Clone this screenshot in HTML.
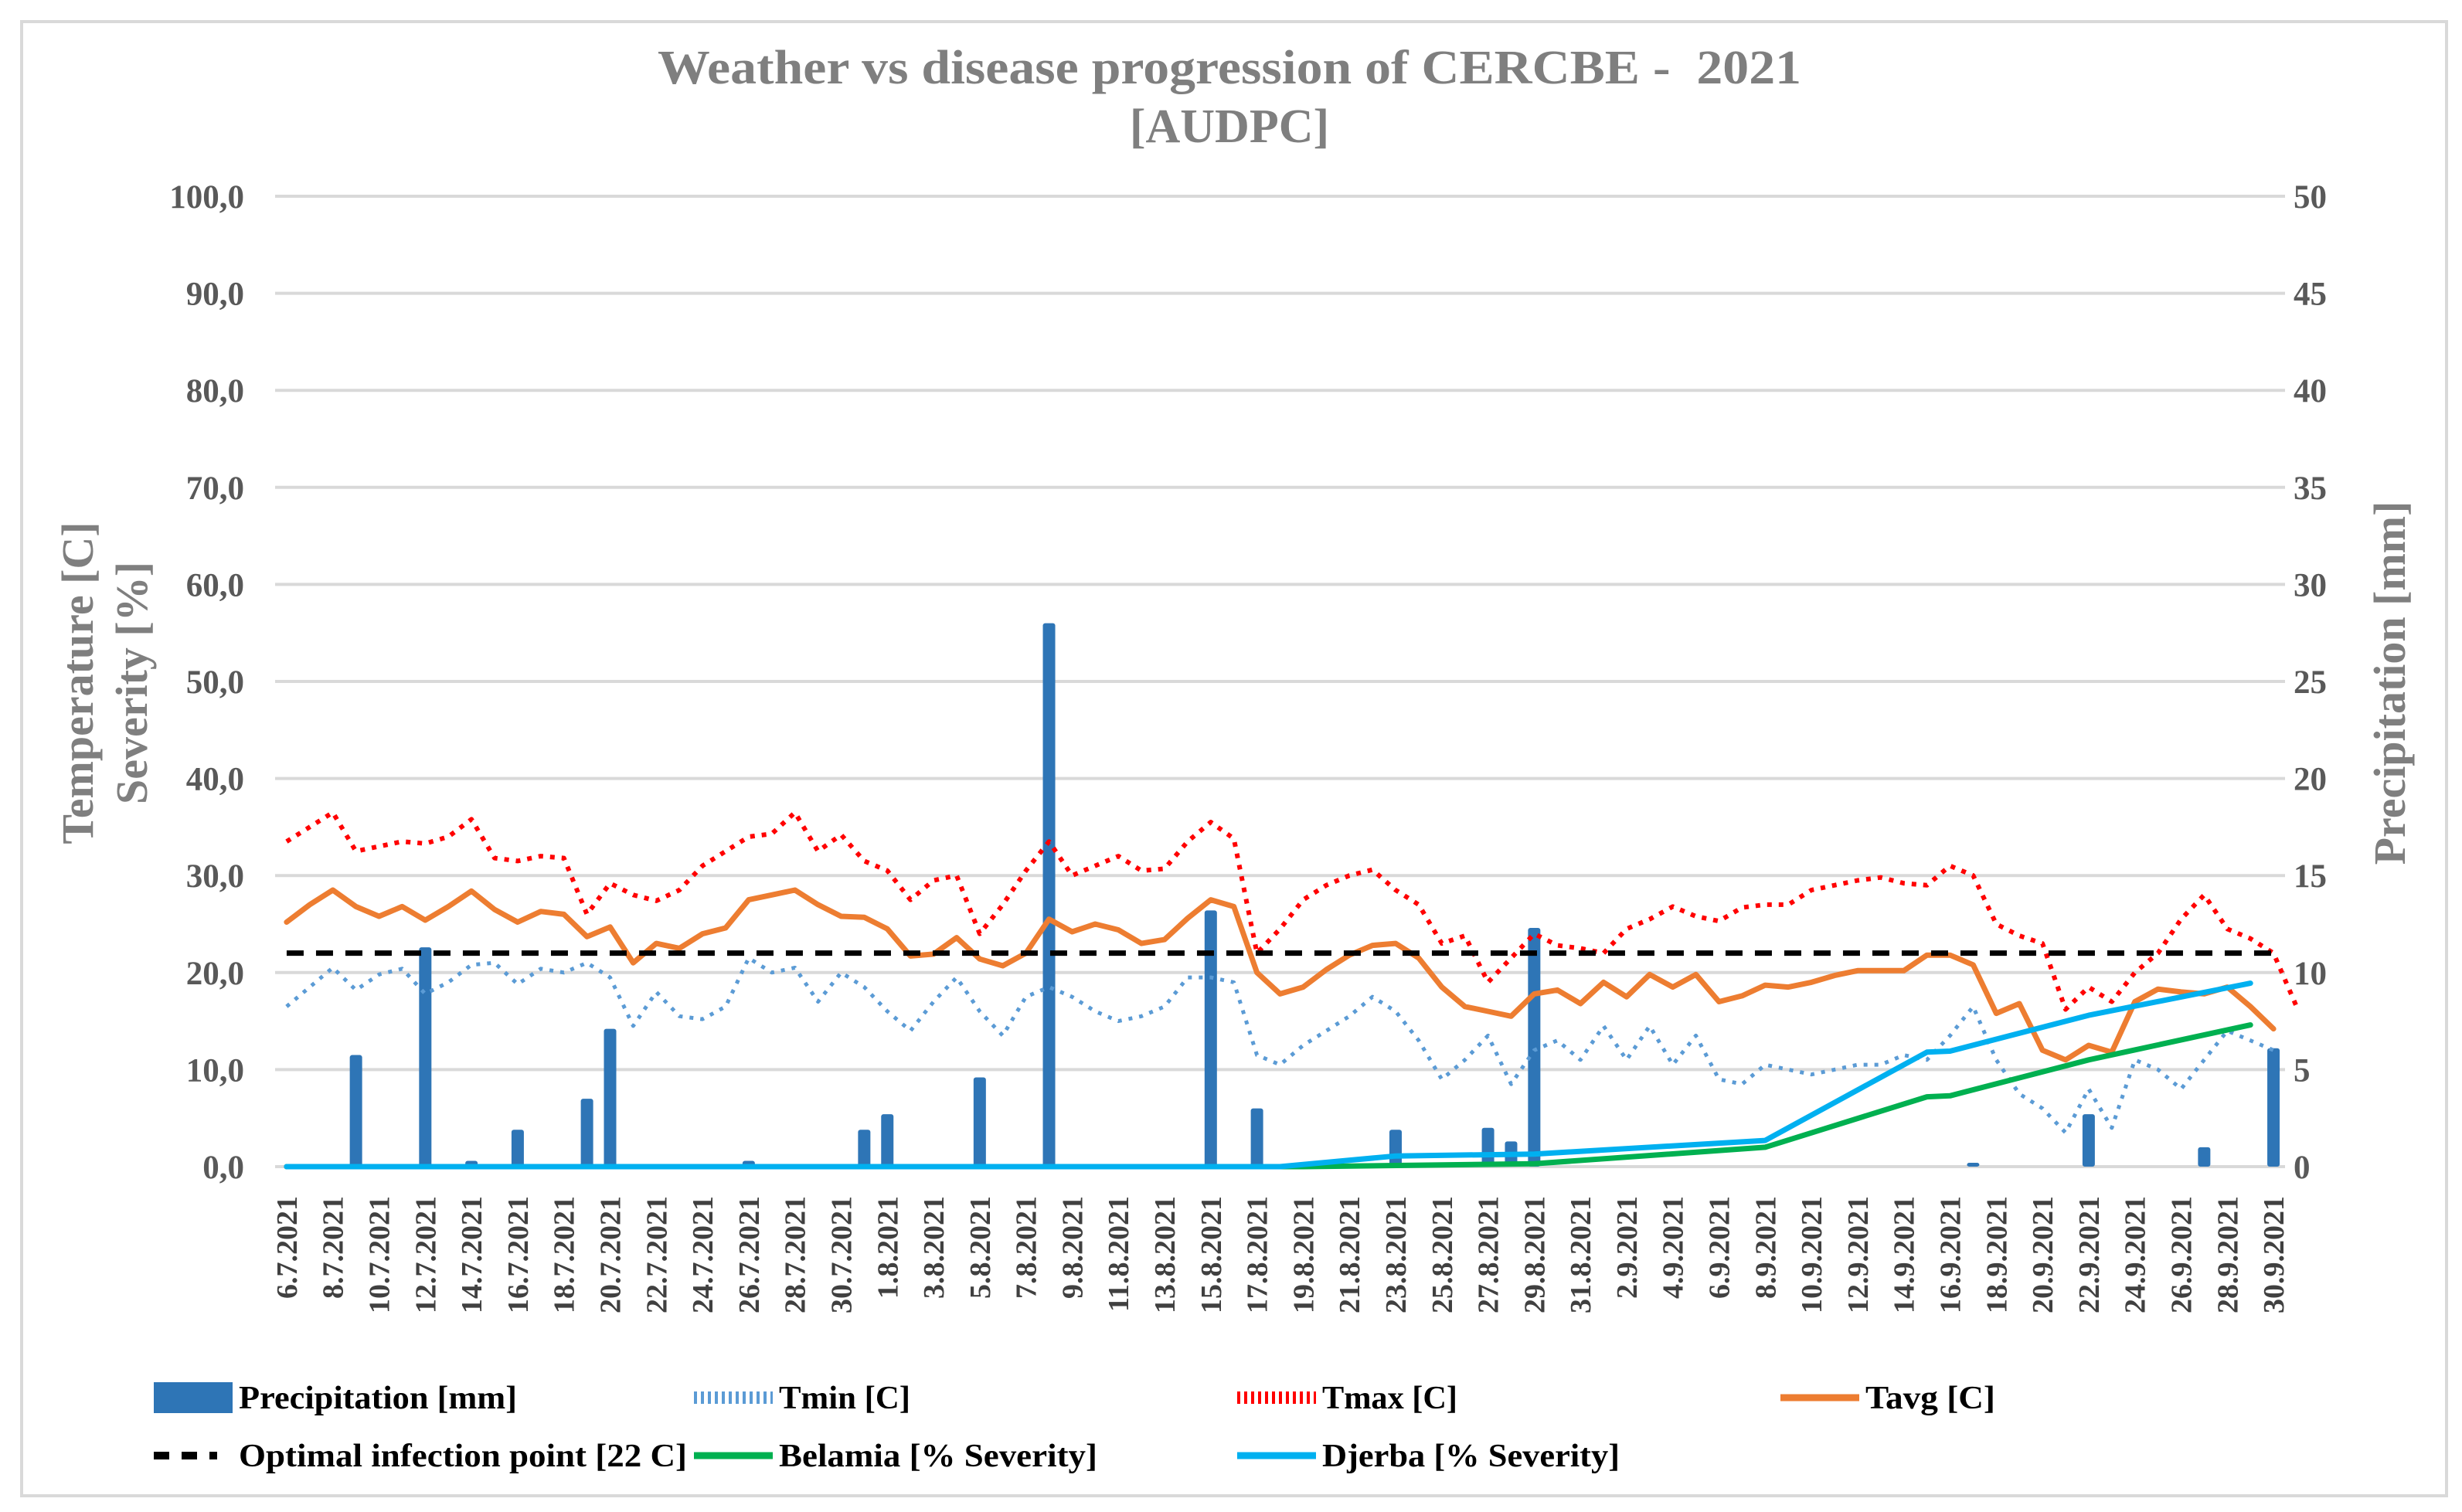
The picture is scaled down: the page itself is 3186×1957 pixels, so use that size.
<!DOCTYPE html>
<html><head><meta charset="utf-8"><style>
html,body{margin:0;padding:0;background:#fff;}
svg{display:block;font-family:"Liberation Serif",serif;}
</style></head><body>
<svg id="chart" width="3186" height="1957" viewBox="0 0 3186 1957" xmlns="http://www.w3.org/2000/svg">
<rect x="28" y="28" width="3138" height="1908" fill="#fff" stroke="#d9d9d9" stroke-width="4"/>
<text x="1591" y="108" text-anchor="middle" font-size="62" font-weight="bold" fill="#7f7f7f" textLength="1480" lengthAdjust="spacingAndGlyphs">Weather vs disease progression of CERCBE -&#160; 2021</text>
<text x="1591" y="184" text-anchor="middle" font-size="62" font-weight="bold" fill="#7f7f7f">[AUDPC]</text>
<g id="grid"></g><g id="bars"></g><g id="lines"></g><g id="axes"></g><g id="legend"></g>
<text transform="translate(120,884) rotate(-90)" text-anchor="middle" font-size="58" font-weight="bold" fill="#7f7f7f">Temperature [C]</text>
<text transform="translate(190,884) rotate(-90)" text-anchor="middle" font-size="58" font-weight="bold" fill="#7f7f7f">Severity [%]</text>
<text transform="translate(3112,884) rotate(-90)" text-anchor="middle" font-size="58" font-weight="bold" fill="#7f7f7f">Precipitation [mm]</text>
</svg>
<script>
const tavg=[25.2,27,28.5,26.8,25.8,26.8,25.4,26.8,28.4,26.5,25.2,26.3,26.0,23.7,24.7,21,23,22.5,24,24.6,27.5,28,28.5,27,25.8,25.7,24.5,21.7,21.9,23.6,21.4,20.7,22,25.5,24.2,25,24.4,23,23.4,25.6,27.5,26.8,20,17.8,18.5,20.3,21.8,22.8,23,21.5,18.5,16.5,16,15.5,17.8,18.2,16.8,19,17.5,19.8,18.5,19.8,17,17.6,18.7,18.5,19,19.7,20.2,20.2,20.2,21.8,21.8,20.8,15.8,16.8,12,11,12.5,11.8,17,18.3,18,17.8,18.5,16.5,14.2];
const tmax=[33.5,35,36.5,32.5,33,33.5,33.3,34,35.8,31.8,31.5,32,31.8,26,29.2,28,27.4,28.5,31,32.5,34,34.3,36.5,32.5,34.2,31.5,30.5,27.5,29.5,30,24,27,30.5,33.5,30,31,32,30.5,30.7,33.5,35.5,33.8,22,24.5,27.5,29,30,30.6,28.5,27,23,23.8,19,21.5,24,22.8,22.5,22,24.5,25.5,26.8,25.8,25.3,26.7,27,27,28.5,29,29.5,29.8,29.2,29,31,30,25,23.8,23,16.2,18.5,17,20,22,25.5,28,24.5,23.5,22,16.5];
const tmin=[16.5,18.5,20.5,18.2,19.8,20.4,17.8,19,20.8,21,18.8,20.4,20,21,19.5,14.5,18,15.5,15.2,16.5,21.5,20,20.5,17,20,18.5,16,14,17,19.5,16,13.5,17.5,18.5,17.5,16,15,15.5,16.5,19.5,19.5,19,11.5,10.5,12.5,14,15.5,17.5,16,13,9,11,13.5,8.5,12,13,11,14.5,11,14.5,10.5,13.5,9,8.5,10.5,10,9.5,10,10.5,10.5,11.5,11,13.5,16.5,11,7.5,6,3.5,8,4,11,10,8,11,14,13,12];
const precipDay=[3,6,8,10,13,14,20,25,26,30,33,40,42,48,52,53,54,73,78,83,86];
const precipMM=[5.75,11.3,0.3,1.9,3.5,7.1,0.3,1.9,2.7,4.6,28,13.2,3,1.9,2.0,1.3,12.3,0.2,2.7,1.0,6.1];
const djerbaDay=[0,43,48,54,64,71,72,78,85];
const djerbaVal=[0,0,1.1,1.3,2.7,11.8,11.9,15.6,18.9];
const belamiaDay=[0,44,54,64,71,72,78,85];
const belamiaVal=[0,0,0.3,2.0,7.2,7.3,11.0,14.6];
const optimal=22;
const leftTicks=[0,10,20,30,40,50,60,70,80,90,100];
const rightTicks=[0,5,10,15,20,25,30,35,40,45,50];
const startDate=new Date(2021,6,6);
const nDays=87;

const NS="http://www.w3.org/2000/svg";
const X0=356,X1=2957,Y0=1510,Y100=254;
const cw=(X1-X0)/nDays;
const xs=i=>X0+cw*(i+0.5);
const yT=v=>Y0-(Y0-Y100)*v/100;
const yP=v=>Y0-(Y0-Y100)*v/50;
function mk(tag,attrs,parent){const e=document.createElementNS(NS,tag);for(const k in attrs)e.setAttribute(k,attrs[k]);parent.appendChild(e);return e;}
const grid=document.getElementById('grid'),bars=document.getElementById('bars'),lines=document.getElementById('lines'),axes=document.getElementById('axes'),legend=document.getElementById('legend');

leftTicks.forEach((t,i)=>{
  const y=yT(t);
  const g=mk('line',{x1:X0,x2:X1,y1:y,y2:y,stroke:'#d9d9d9','stroke-width':4},grid);
  
  
  const l=mk('text',{x:316,y:y+15,'text-anchor':'end','font-size':43,'font-weight':'bold',fill:'#595959'},axes);
  l.textContent=t.toFixed(1).replace('.',',');
  
  
});
rightTicks.forEach(t=>{
  const l=mk('text',{x:2968,y:yP(t)+15,'text-anchor':'start','font-size':43,'font-weight':'bold',fill:'#595959'},axes);
  l.textContent=String(t);
  
  
});
for(let i=0;i<nDays;i+=2){
  const d=new Date(startDate);d.setDate(d.getDate()+i);
  const s=d.getDate()+'.'+(d.getMonth()+1)+'.2021';
  const x=xs(i);
  const l=mk('text',{transform:`translate(${x+13},1548) rotate(-90)`,'text-anchor':'end','font-size':38,'font-weight':'bold',fill:'#404040'},axes);
  l.textContent=s;
  
  
}
precipDay.forEach((d,i)=>{
  const y=yP(precipMM[i]);
  const b=mk('rect',{x:xs(d)-8,y:y,width:16,height:Y0-y,fill:'#2e75b6',rx:3},bars);
  
  
});
function series(vals,idx,yf,stroke,w,dash,name){
  const pts=vals.map((v,i)=>xs(idx?idx[i]:i).toFixed(1)+','+yf(v).toFixed(1)).join(' ');
  const p=mk('polyline',{points:pts,fill:'none',stroke:stroke,'stroke-width':w,'stroke-linejoin':'round','stroke-linecap':dash?'butt':'round'},lines);
  if(dash)p.setAttribute('stroke-dasharray',dash);
  
  
}
series(tmin,null,yT,'#5b9bd5',5,'5 9','tmin-line');
series(tmax,null,yT,'#ff0000',6,'6 9','tmax-line');
series(tavg,null,yT,'#ed7d31',7,null,'tavg-line');
series(belamiaVal,belamiaDay,yT,'#00b050',7,null,'belamia-line');
series(djerbaVal,djerbaDay,yT,'#00b0f0',7,null,'djerba-line');
const opt=mk('line',{x1:xs(0),x2:xs(nDays-1),y1:yT(optimal),y2:yT(optimal),stroke:'#000','stroke-width':7,'stroke-dasharray':'22 16'},lines);



const items=[
 [199,1809,'bar','#2e75b6','Precipitation [mm]','legend-precipitation',360],
 [898,1809,'dot','#5b9bd5','Tmin [C]','legend-tmin',170],
 [1601,1809,'dot','#ff0000','Tmax [C]','legend-tmax',175],
 [2304,1809,'line','#ed7d31','Tavg [C]','legend-tavg',168],
 [199,1884,'dash','#000','Optimal infection point [22 C]','legend-optimal',580],
 [898,1884,'line','#00b050','Belamia [% Severity]','legend-belamia',412],
 [1601,1884,'line','#00b0f0','Djerba [% Severity]','legend-djerba',385]];
items.forEach(it=>{
  const [x,y,type,c,label,name,tl]=it;
  const g=mk('g',{},legend);
  
  
  if(type==='bar')mk('rect',{x:x,y:y-20,width:102,height:40,fill:c},g);
  else if(type==='dot')mk('line',{x1:x,x2:x+102,y1:y,y2:y,stroke:c,'stroke-width':16,'stroke-dasharray':'4 5'},g);
  else if(type==='dash')mk('line',{x1:x,x2:x+82,y1:y,y2:y,stroke:c,'stroke-width':10,'stroke-dasharray':'20 16'},g);
  else mk('line',{x1:x,x2:x+102,y1:y,y2:y,stroke:c,'stroke-width':9},g);
  const t=mk('text',{x:x+110,y:y+14,'font-size':42,'font-weight':'bold',fill:'#000',textLength:tl,lengthAdjust:'spacingAndGlyphs'},g);
  t.textContent=label;
});
</script>
</body></html>
